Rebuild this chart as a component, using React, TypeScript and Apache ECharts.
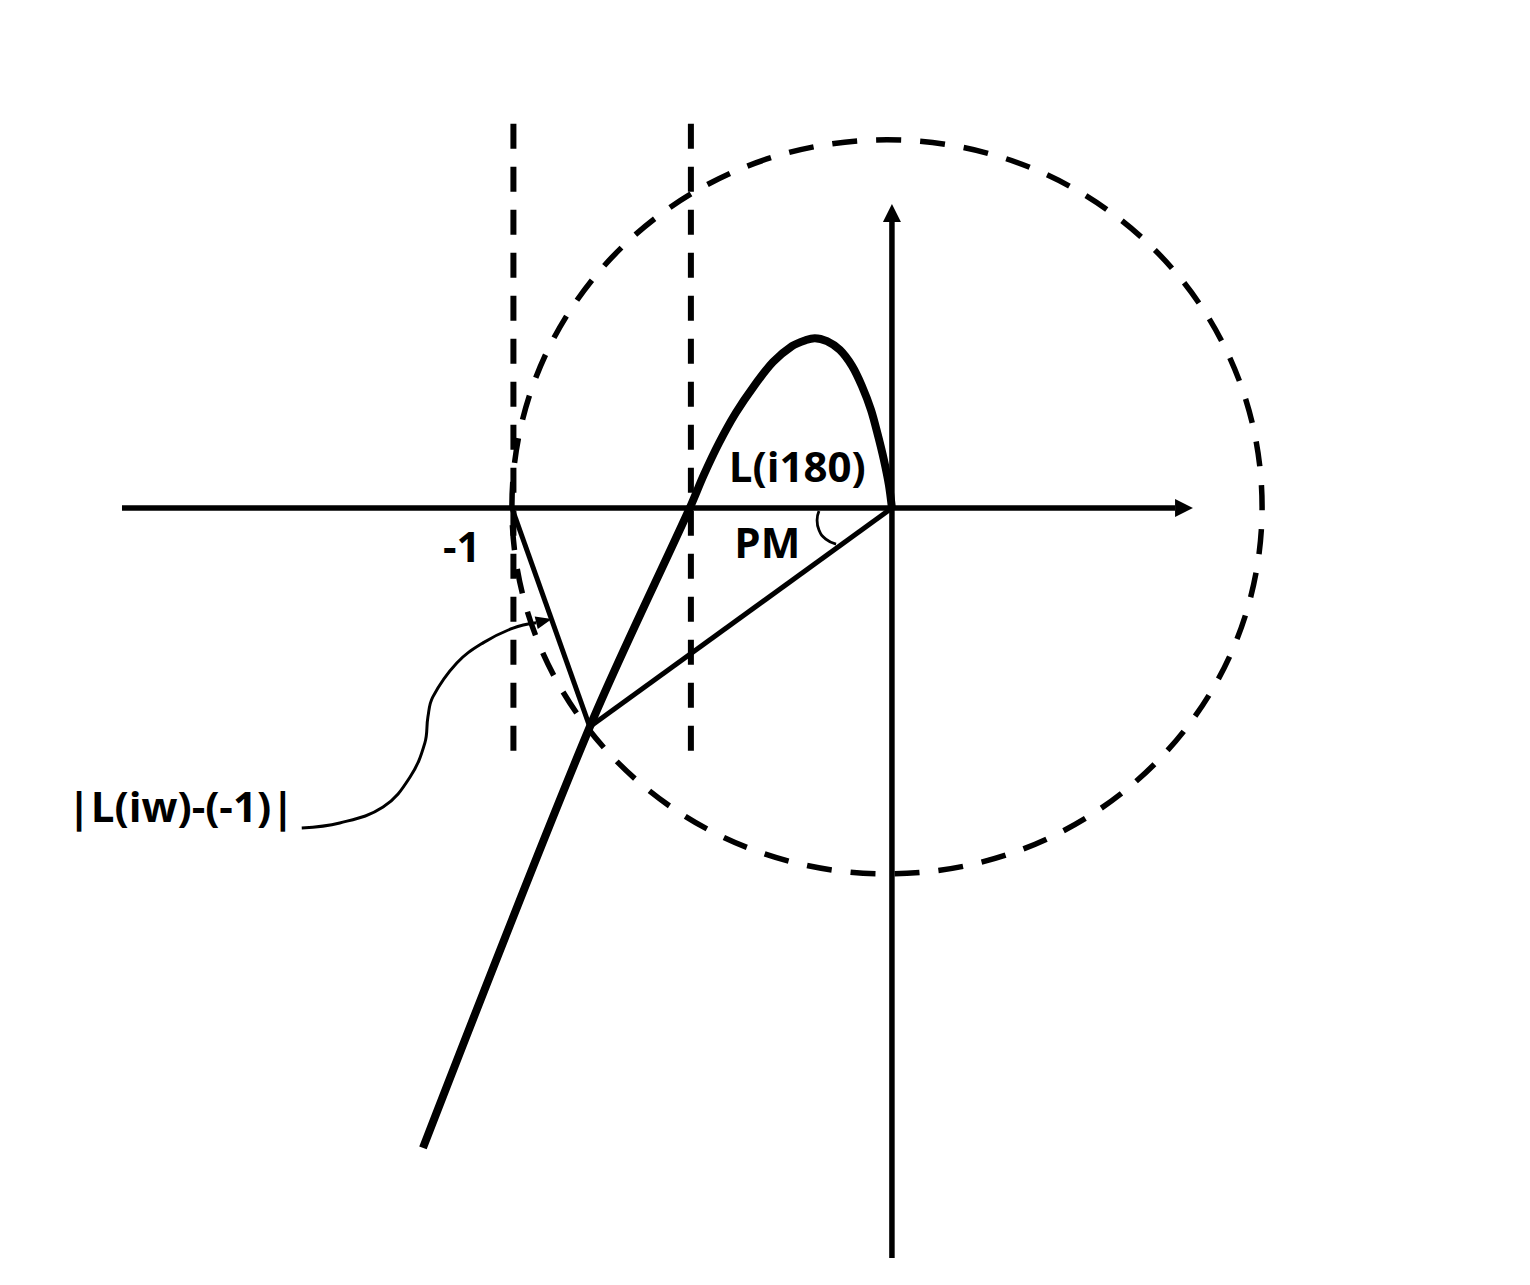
import React, { useEffect, useRef } from "react";
import * as echarts from "echarts";

// Plot domain (Nyquist plane units, -1 is the critical point)
const X_MIN = -2.347;
const X_MAX = 1.679;
const Y_MIN = -2.045;
const Y_MAX = 1.337;

// Axes (line part) and arrowheads [baseX, baseY, tipX, tipY]
const realAxis = [[-2.026, 0], [0.745, 0]];
const imagAxis = [[0, -1.974], [0, 0.753]];
const axisArrows = [[0.745, 0, 0.792, 0], [0, 0.753, 0, 0.8]];

// Dashed vertical guides
const guideLeft = [[-0.996, 1.011], [-0.996, -0.65]];
const guideRight = [[-0.529, 1.011], [-0.529, -0.65]];

// Unit circle (dashed) [cx, cy, rx, ry]
const unitCircle = [[-0.013, 0.003, 0.987, 0.966]];

// Nyquist curve L(iw)
const nyquist = [
  [-1.234, -1.684],
  [-0.795, -0.576],
  [-0.532, 0.0],
  [-0.495, 0.087],
  [-0.455, 0.171],
  [-0.411, 0.250],
  [-0.363, 0.321],
  [-0.313, 0.384],
  [-0.263, 0.426],
  [-0.226, 0.442],
  [-0.203, 0.447],
  [-0.171, 0.439],
  [-0.137, 0.416],
  [-0.105, 0.374],
  [-0.079, 0.321],
  [-0.055, 0.258],
  [-0.037, 0.192],
  [-0.021, 0.126],
  [-0.008, 0.061],
  [0, 0],
];

// Vector from -1 to L(iw) and from origin to L(iw)
const distVector = [[-1, 0], [-0.795, -0.576]];
const originVector = [[-0.795, -0.576], [0, 0]];

// Phase margin arc
const pmArc = [
  [-0.192, -0.008],
  [-0.197, -0.032],
  [-0.192, -0.058],
  [-0.174, -0.082],
  [-0.147, -0.095],
];

// Annotation pointer curve + its arrowhead
const pointer = [
  [-1.553, -0.842],
  [-1.453, -0.829],
  [-1.339, -0.787],
  [-1.268, -0.708],
  [-1.229, -0.618],
  [-1.221, -0.55],
  [-1.208, -0.497],
  [-1.145, -0.408],
  [-1.076, -0.355],
  [-0.997, -0.316],
  [-0.936, -0.302],
];
const pointerArrow = [[-0.936, -0.302, -0.895, -0.292]];

// Text labels
const labelTexts = ["-1", "L(i180)", "PM", "|L(iw)-(-1)|"];
const labelPositions = [
  [-1.132, -0.1],
  [-0.249, 0.111],
  [-0.328, -0.087],
  [-1.871, -0.782],
];

function lineSeries(data: number[][], width: number, opts: any = {}) {
  return {
    type: "line",
    data,
    symbol: "none",
    silent: true,
    smooth: opts.smooth ?? false,
    lineStyle: {
      color: "#000",
      width,
      type: opts.dash ?? "solid",
      cap: "butt",
      join: "round",
    },
    z: opts.z ?? 2,
  };
}

function arrowSeries(data: number[][], halfWidth: number) {
  return {
    type: "custom",
    coordinateSystem: "cartesian2d",
    silent: true,
    data,
    encode: { x: [0, 2], y: [1, 3] },
    z: 5,
    renderItem: (_p: any, api: any) => {
      const b = api.coord([api.value(0), api.value(1)]);
      const t = api.coord([api.value(2), api.value(3)]);
      const dx = t[0] - b[0];
      const dy = t[1] - b[1];
      const len = Math.hypot(dx, dy) || 1;
      const nx = (-dy / len) * halfWidth;
      const ny = (dx / len) * halfWidth;
      return {
        type: "polygon",
        shape: {
          points: [
            [t[0], t[1]],
            [b[0] + nx, b[1] + ny],
            [b[0] - nx, b[1] - ny],
          ],
        },
        style: { fill: "#000" },
      };
    },
  };
}

export default function App() {
  const ref = useRef<HTMLDivElement>(null);

  useEffect(() => {
    if (!ref.current) return;
    const chart = echarts.init(ref.current, undefined, { renderer: "svg" });
    chart.setOption({
      animation: false,
      backgroundColor: "#ffffff",
      grid: { left: 0, right: 0, top: 0, bottom: 0 },
      xAxis: { type: "value", min: X_MIN, max: X_MAX, show: false },
      yAxis: { type: "value", min: Y_MIN, max: Y_MAX, show: false },
      series: [
        {
          type: "custom",
          coordinateSystem: "cartesian2d",
          silent: true,
          data: unitCircle,
          encode: { x: 0, y: 1 },
          z: 1,
          renderItem: (_p: any, api: any) => {
            const c = api.coord([api.value(0), api.value(1)]);
            const s = api.size([api.value(2), api.value(3)], [api.value(0), api.value(1)]);
            return {
              type: "ellipse",
              shape: { cx: c[0], cy: c[1], rx: s[0], ry: s[1] },
              style: { fill: "none", stroke: "#000", lineWidth: 5.5, lineDash: [25, 19] },
            };
          },
        },
        lineSeries(guideLeft, 6, { dash: [25, 18] }),
        lineSeries(guideRight, 6, { dash: [25, 18] }),
        lineSeries(realAxis, 5.5),
        lineSeries(imagAxis, 5.5),
        arrowSeries(axisArrows, 9),
        lineSeries(nyquist, 8, { smooth: 0.3, z: 3 }),
        lineSeries(distVector, 5),
        lineSeries(originVector, 5),
        lineSeries(pmArc, 2.8, { smooth: 0.5 }),
        lineSeries(pointer, 3, { smooth: 0.4 }),
        arrowSeries(pointerArrow, 6.5),
        {
          type: "custom",
          coordinateSystem: "cartesian2d",
          silent: true,
          data: labelPositions,
          encode: { x: 0, y: 1 },
          z: 6,
          renderItem: (params: any, api: any) => {
            const c = api.coord([api.value(0), api.value(1)]);
            return {
              type: "text",
              x: c[0],
              y: c[1],
              style: {
                text: labelTexts[params.dataIndex],
                fill: "#000",
                fontFamily: "Open Sans",
                fontWeight: "bold",
                fontSize: 42,
                align: "center",
                verticalAlign: "middle",
              },
            };
          },
        },
      ],
    });
    return () => chart.dispose();
  }, []);

  return (
    <div
      ref={ref}
      style={{ position: "fixed", left: 0, top: 0, width: 1530, height: 1285, background: "#fff" }}
    />
  );
}
